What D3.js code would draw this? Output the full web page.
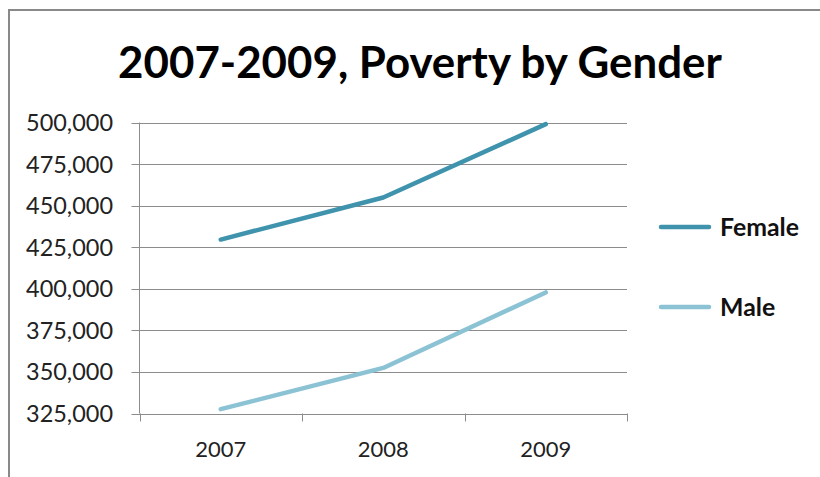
<!DOCTYPE html>
<html><head><meta charset="utf-8">
<script src="https://cdn.jsdelivr.net/npm/d3@7"></script>
<style>body{margin:0;background:#fff}svg{display:block}</style>
</head><body>
<svg id="c" width="820" height="477"></svg>
<script>
const years = ["2007", "2008", "2009"];
const female = [429600, 454900, 499000];
const male = [327600, 352400, 397800];
const seriesNames = ["Female", "Male"];
const seriesColors = ["#3f93ad", "#8bc3d5"];
const yTicks = [325000, 350000, 375000, 400000, 425000, 450000, 475000, 500000];
const titleText = "2007-2009, Poverty by Gender";

const svg = d3.select("#c");
const font = "Lato, 'Open Sans', sans-serif";

// fit a text selection's font size so the first node has the target width
function fit(sel, target) {
  const n = sel.node();
  const fs = parseFloat(sel.attr("font-size"));
  const w = n.getComputedTextLength();
  sel.attr("font-size", fs * target / w);
}

// outer border (top & left visible)
svg.append("rect").attr("x", 9).attr("y", 10).attr("width", 830).attr("height", 480)
  .attr("fill", "none").attr("stroke", "#898989").attr("stroke-width", 2);

const L = 139.5, R = 627, T = 122.5, B = 413.5;
const x = d3.scaleBand().domain(years).range([L, R]);
const y = d3.scaleLinear().domain([325000, 500000]).range([B, T]);

// gridlines
svg.append("g").selectAll("line").data(yTicks).join("line")
  .attr("x1", L - 8).attr("x2", R).attr("y1", d => Math.round(y(d)) + 0.5).attr("y2", d => Math.round(y(d)) + 0.5)
  .attr("stroke", "#8c8c8c").attr("stroke-width", 1);

// y axis line
svg.append("line").attr("x1", L).attr("x2", L).attr("y1", T).attr("y2", B)
  .attr("stroke", "#8c8c8c");

// y labels
const yl = svg.append("g").selectAll("text").data(yTicks.slice().reverse()).join("text")
  .attr("x", 113).attr("y", d => y(d)).attr("dy", "0.36em")
  .attr("text-anchor", "end").attr("font-family", font).attr("font-size", 20)
  .attr("fill", "#222").text(d3.format(","));
fit(yl, 87);

// x axis ticks
const xEdges = years.map(d => x(d)).concat([R]);
svg.append("g").selectAll("line").data(xEdges).join("line")
  .attr("x1", d => Math.round(d) + 0.5).attr("x2", d => Math.round(d) + 0.5)
  .attr("y1", B).attr("y2", B + 8).attr("stroke", "#8c8c8c");

const xl = svg.append("g").selectAll("text").data(years).join("text")
  .attr("x", d => x(d) + x.bandwidth() / 2).attr("y", 456.5)
  .attr("text-anchor", "middle").attr("font-family", font).attr("font-size", 20)
  .attr("fill", "#222").text(d => d);
fit(xl, 51);

// lines
const line = d3.line().x((d, i) => x(years[i]) + x.bandwidth() / 2).y(d => y(d));
[female, male].forEach((s, k) => {
  svg.append("path").datum(s).attr("d", line).attr("fill", "none")
    .attr("stroke", seriesColors[k]).attr("stroke-width", 4.5)
    .attr("stroke-linecap", "round").attr("stroke-linejoin", "round");
});

// legend
const legY = [227, 307];
seriesNames.forEach((n, k) => {
  svg.append("line").attr("x1", 661).attr("x2", 709).attr("y1", legY[k]).attr("y2", legY[k])
    .attr("stroke", seriesColors[k]).attr("stroke-width", 4.5).attr("stroke-linecap", "round");
});
const lt = svg.append("g").selectAll("text").data(seriesNames).join("text")
  .attr("x", 720).attr("y", (d, k) => legY[k]).attr("dy", "0.36em")
  .attr("font-family", font).attr("font-weight", "bold").attr("font-size", 20)
  .attr("fill", "#111").text(d => d);
fit(lt, 79);

// title, fit to target width
const title = svg.append("text").attr("x", 420).attr("y", 78)
  .attr("text-anchor", "middle").attr("font-family", font).attr("font-weight", "bold")
  .attr("font-size", 40).attr("fill", "#000").text(titleText);
fit(title, 604);
</script>
</body></html>
